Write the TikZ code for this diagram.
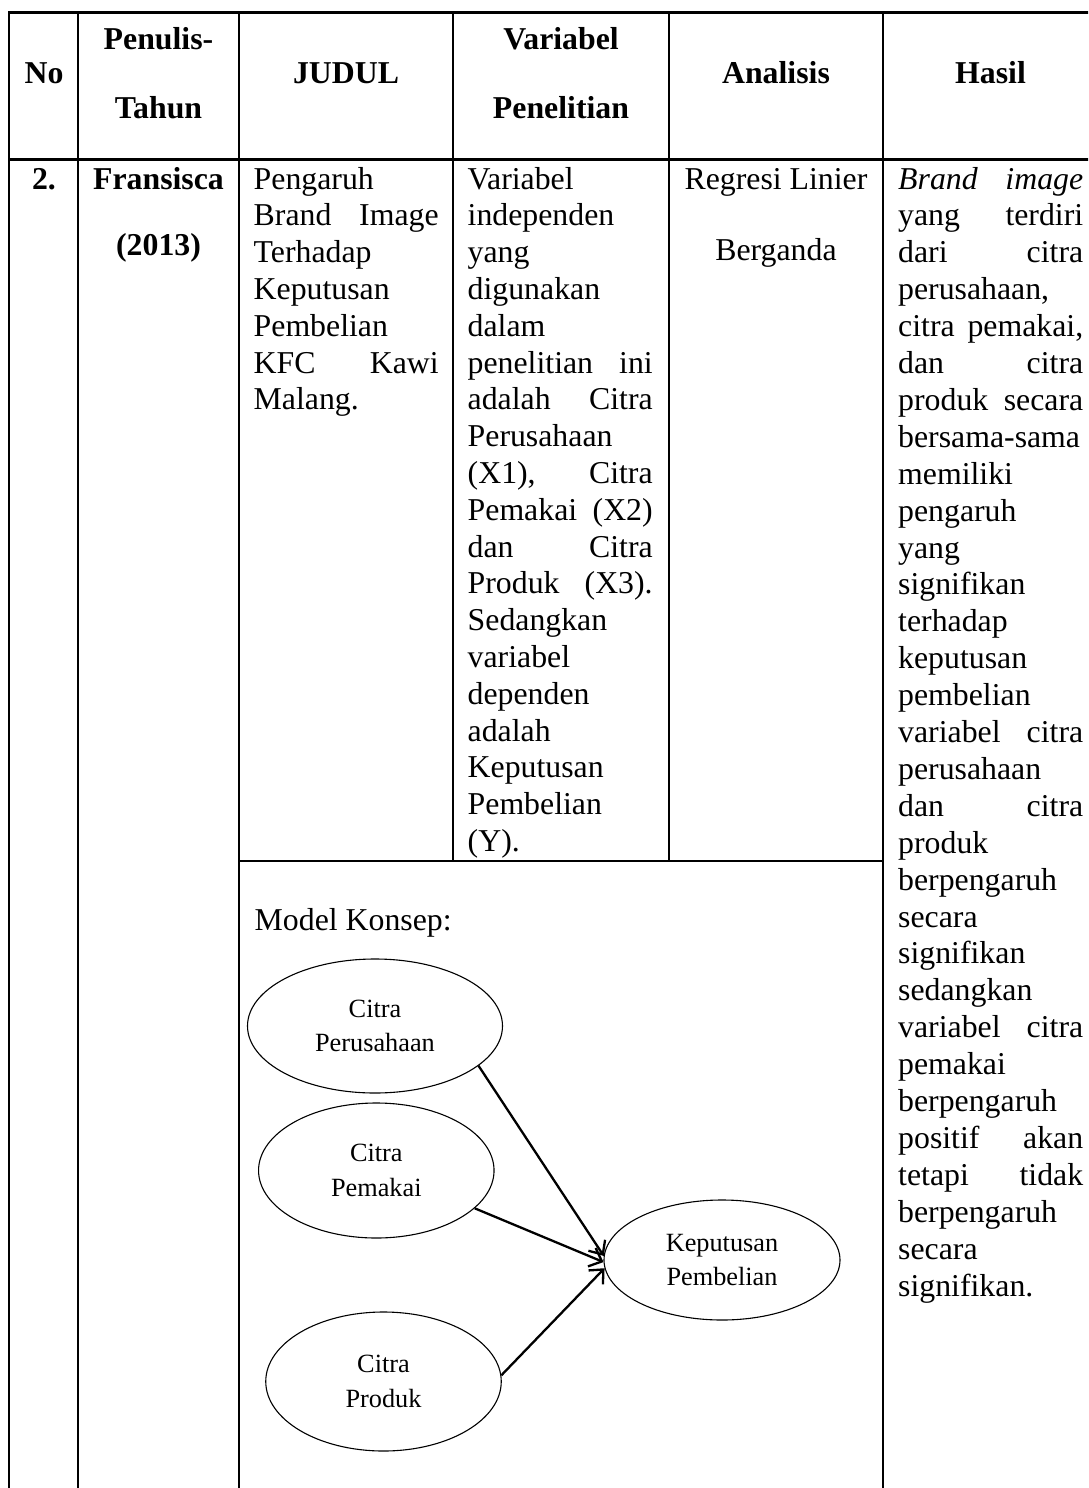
\documentclass[tikz,border=0pt]{standalone}
\usepackage{fontspec}
\setmainfont{Liberation Serif}
\usetikzlibrary{arrows.meta,shapes.geometric}

% one justified line of a table cell
\newcommand\jst[1]{\makebox[185pt][s]{#1}}

\begin{document}
\frenchspacing
\begin{tikzpicture}[x=1pt,y=-1pt,
  grid/.style={line width=2.6pt, line cap=rect},
  cell/.style={anchor=base west, inner sep=0pt, font=\fontsize{31.8}{36.9}\selectfont},
  ctr/.style={anchor=base, inner sep=0pt, font=\fontsize{31.8}{36.9}\selectfont},
  head/.style={anchor=base, inner sep=0pt, font=\fontsize{31.8}{36.9}\selectfont\bfseries},
  var/.style={draw, ellipse, line width=1.1pt, inner sep=0pt, align=center,
    font=\fontsize{26.3}{34.5}\selectfont},
  link/.style={line width=2.3pt, -{Straight Barb[length=11pt,width=20pt]}}
]
\useasboundingbox (0,0) rectangle (1088,1488);
\fill[white] (0,0) rectangle (1088,1488);
\clip (0,0) rectangle (1088,1488);

% table rules
\draw[grid] (9,12.5) -- (1098,12.5);
\draw[grid] (9,159.5) -- (1098,159.5);
\draw[grid] (239,861) -- (883,861);
\foreach \x in {9,78,239,883,1098} \draw[grid] (\x,12.5) -- (\x,1500);
\foreach \x in {453,669} \draw[grid] (\x,12.5) -- (\x,861);

% header row
\node[head] (hNo)   at (44,84)    {No};
\node[head] (hPen1) at (158.5,49) {Penulis-};
\node[head] (hPen2) at (158.5,118){Tahun};
\node[head] (hJud)  at (346,84)   {JUDUL};
\node[head] (hVar1) at (561,49)   {Variabel};
\node[head] (hVar2) at (561,118)  {Penelitian};
\node[head] (hAna)  at (776,84)   {Analisis};
\node[head] (hHas)  at (990.5,84) {Hasil};

% entry row
\node[head] (no)   at (44,189)    {2.};
\node[head] (pen1) at (158.5,189) {Fransisca};
\node[head] (pen2) at (158.5,255) {(2013)};
\node[ctr]  (an1)  at (776,189)   {Regresi Linier};
\node[ctr]  (an2)  at (776,260)   {Berganda};

\foreach \t [count=\i] in {Pengaruh, \jst{Brand Image}, Terhadap, Keputusan,
    Pembelian, \jst{KFC Kawi}, Malang.}
  \node[cell] (jd\i) at (253.5,{189+(\i-1)*36.8}) {\t};

\foreach \t [count=\i] in {Variabel, independen, yang, digunakan, dalam,
    \jst{penelitian ini}, \jst{adalah Citra}, Perusahaan, {\jst{(X1), Citra}},
    \jst{Pemakai (X2)}, \jst{dan Citra}, \jst{Produk (X3).}, Sedangkan,
    variabel, dependen, adalah, Keputusan, Pembelian, {(Y).}}
  \node[cell] (vr\i) at (467.5,{189+(\i-1)*36.8}) {\t};

\foreach \t [count=\i] in {\jst{\textit{Brand} \textit{image}}, \jst{yang terdiri},
    \jst{dari citra}, {perusahaan,}, {\jst{citra pemakai,}}, \jst{dan citra},
    \jst{produk secara}, bersama-sama, memiliki, pengaruh, yang, signifikan,
    terhadap, keputusan, pembelian, \jst{variabel citra}, perusahaan,
    \jst{dan citra}, produk, berpengaruh, secara, signifikan, sedangkan,
    \jst{variabel citra}, pemakai, berpengaruh, \jst{positif akan},
    \jst{tetapi tidak}, berpengaruh, secara, signifikan.}
  \node[cell] (hs\i) at (898,{189+(\i-1)*36.9}) {\t};

% concept model
\node[cell] (mk) at (254.5,930) {Model Konsep:};

\node[var, minimum width=255pt, minimum height=134pt] (cp) at (375,1026)     {Citra\\Perusahaan};
\node[var, minimum width=235.5pt, minimum height=135pt] (cm) at (376.3,1170.5) {Citra\\Pemakai};
\node[var, minimum width=235.5pt, minimum height=139pt] (cd) at (383.5,1381.5) {Citra\\Produk};
\node[var, minimum width=236pt, minimum height=120pt] (kp) at (722,1260)     {Keputusan\\Pembelian};

\draw[link] (cp.-21)   -- (kp.178);
\draw[link] (cm.-21.5) -- (kp.181);
\draw[link] (cd.3)     -- (kp.184);
\end{tikzpicture}
\end{document}
